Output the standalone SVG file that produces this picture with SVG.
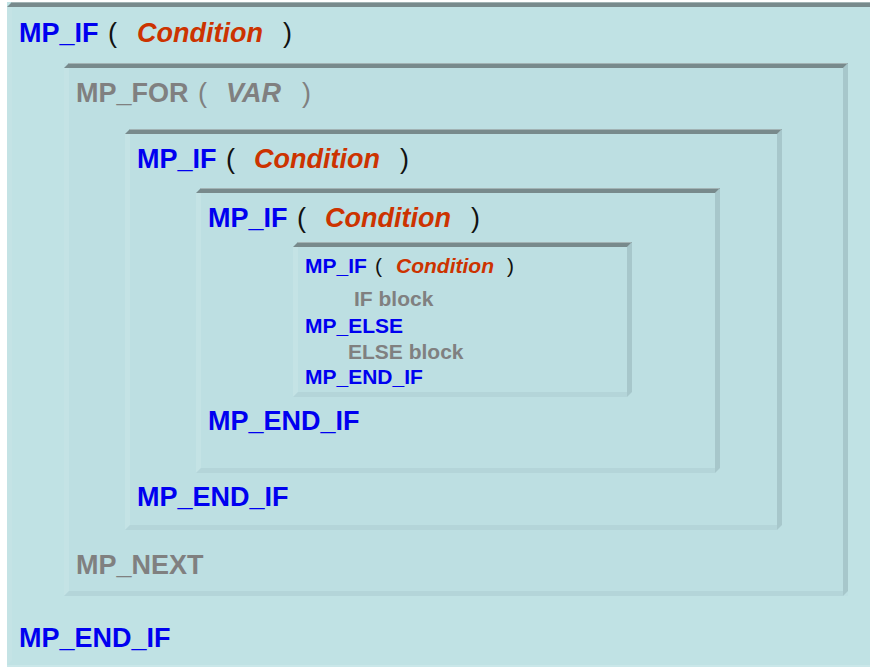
<svg xmlns="http://www.w3.org/2000/svg" width="870" height="667" viewBox="0 0 870 667">
<style>
.t{font-family:"Liberation Sans",Arial,sans-serif;font-weight:bold;font-size:27px}
.s{font-size:21px}
.kw{fill:#0000f0}
.gr{fill:#808080}
.cond{fill:#cc3300;font-style:italic}
.par{fill:#111;font-weight:normal}
.fill{fill:#bddfe2}
.top{fill:#788a8c}
.hl{fill:#a2b3b4}
.rt{fill:#a7c7cb}
.bt{fill:#b4d5d9}
.lf{fill:#c4e3e5}
</style>
<rect x="0" y="0" width="870" height="667" fill="#ffffff"/>
<g id="box-outer">
<rect x="7" y="2" width="873" height="663" fill="#c0e2e4"/>
<rect x="7" y="665" width="873" height="2" fill="#cae7e9"/>
<polygon class="lf" points="7,7 12,7 12,660 7,665"/>
<polygon class="top" points="12,2 880,2 880,7 7,7"/>
<rect class="hl" x="12" y="2" width="868" height="1"/>
<text class="t" y="42"><tspan class="kw" x="19">MP_IF</tspan><tspan class="par" x="108">(</tspan><tspan class="cond" x="137">Condition</tspan><tspan class="par" x="283">)</tspan></text>
<text class="t kw" x="19" y="647">MP_END_IF</text>
</g>
<g id="box-for">
<rect class="fill" x="64" y="63" width="784" height="533"/>
<polygon class="lf" points="64,68 69,68 69,591 64,596"/>
<polygon class="bt" points="69,591 843,591 843,596 64,596"/>
<polygon class="rt" points="848,63 848,591 843,596 843,68"/>
<polygon class="top" points="69,63 848,63 843,68 64,68"/>
<rect class="hl" x="69" y="63" width="778" height="1"/>
<text class="t gr" y="102"><tspan x="76">MP_FOR</tspan><tspan x="198" font-weight="normal">(</tspan><tspan x="226" font-style="italic">VAR</tspan><tspan x="302" font-weight="normal">)</tspan></text>
<text class="t gr" x="76" y="574">MP_NEXT</text>
</g>
<g id="box-if2">
<rect class="fill" x="125" y="129" width="657" height="401"/>
<polygon class="lf" points="125,134 130,134 130,525 125,530"/>
<polygon class="bt" points="130,525 777,525 777,530 125,530"/>
<polygon class="rt" points="782,129 782,525 777,530 777,134"/>
<polygon class="top" points="130,129 782,129 777,134 125,134"/>
<rect class="hl" x="130" y="129" width="651" height="1"/>
<text class="t" y="168"><tspan class="kw" x="137">MP_IF</tspan><tspan class="par" x="226">(</tspan><tspan class="cond" x="254">Condition</tspan><tspan class="par" x="400">)</tspan></text>
<text class="t kw" x="137" y="506">MP_END_IF</text>
</g>
<g id="box-if3">
<rect class="fill" x="196" y="188" width="524" height="285"/>
<polygon class="lf" points="196,193 201,193 201,468 196,473"/>
<polygon class="bt" points="201,468 715,468 715,473 196,473"/>
<polygon class="rt" points="720,188 720,468 715,473 715,193"/>
<polygon class="top" points="201,188 720,188 715,193 196,193"/>
<rect class="hl" x="201" y="188" width="518" height="1"/>
<text class="t" y="227"><tspan class="kw" x="208">MP_IF</tspan><tspan class="par" x="297">(</tspan><tspan class="cond" x="325">Condition</tspan><tspan class="par" x="471">)</tspan></text>
<text class="t kw" x="208" y="430">MP_END_IF</text>
</g>
<g id="box-if4">
<rect class="fill" x="293" y="242" width="339" height="155"/>
<polygon class="lf" points="293,247 298,247 298,392 293,397"/>
<polygon class="bt" points="298,392 627,392 627,397 293,397"/>
<polygon class="rt" points="632,242 632,392 627,397 627,247"/>
<polygon class="top" points="298,242 632,242 627,247 293,247"/>
<rect class="hl" x="298" y="242" width="333" height="1"/>
<text class="t s" y="273"><tspan class="kw" x="305">MP_IF</tspan><tspan class="par" x="375">(</tspan><tspan class="cond" x="396">Condition</tspan><tspan class="par" x="507">)</tspan></text>
<text class="t s gr" x="354" y="306">IF block</text>
<text class="t s kw" x="305" y="333">MP_ELSE</text>
<text class="t s gr" x="348" y="359">ELSE block</text>
<text class="t s kw" x="305" y="384">MP_END_IF</text>
</g>
<g id="connectors"/>
</svg>
